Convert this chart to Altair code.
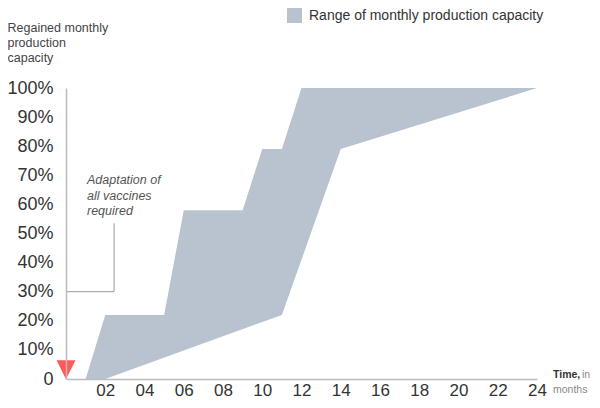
import altair as alt
import pandas as pd

# ---- data ----
upper_months = [1, 2, 5, 6, 9, 10, 11, 12, 24]
upper_values = [0, 22, 22, 58, 58, 79, 79, 100, 100]
lower_months = [2, 11, 14, 24]
lower_values = [0, 22, 79, 100]
series_name = "Range of monthly production capacity"
y_ticks = [0, 10, 20, 30, 40, 50, 60, 70, 80, 90, 100]
x_ticks = [2, 4, 6, 8, 10, 12, 14, 16, 18, 20, 22, 24]
y_title = ["Regained monthly", "production", "capacity"]
annotation_lines = ["Adaptation of", "all vaccines", "required"]
marker_month = [0]
marker_value = [3.2]
connector_month = [2.45]
connector_low = [30]
connector_high = [53.5]

FONT = "Liberation Sans"
AREA = "#b9c3d0"
TXT = "#333333"
AXIS = "#bbbbbb"

upper = pd.DataFrame({"month": upper_months, "capacity": upper_values,
                      "series": [series_name] * len(upper_months)})
lower = pd.DataFrame({"month": lower_months, "capacity": lower_values})

x_scale = alt.Scale(domain=[0, 24], nice=False, zero=False)
y_scale = alt.Scale(domain=[0, 100], nice=False)

x_axis = alt.Axis(values=x_ticks,
                  labelExpr="datum.value < 10 ? '0' + datum.value : '' + datum.value",
                  ticks=False, grid=False, domainColor=AXIS, domainWidth=1.5,
                  labelFontSize=17, labelColor=TXT, labelFont=FONT, labelPadding=3,
                  labelFlush=False, labelOverlap=False, title=None, zindex=1)
y_axis = alt.Axis(values=y_ticks,
                  labelExpr="datum.value == 0 ? '0' : datum.value + '%'",
                  ticks=False, grid=False, domainColor=AXIS, domainWidth=1.5,
                  labelFontSize=18, labelColor=TXT, labelFont=FONT, labelPadding=13,
                  labelOverlap=False, labelFlush=False, labelSeparation=0,
                  title=y_title, titleAngle=0, titleAlign="left", titleBaseline="top",
                  titleX=-59, titleY=-67, titleFontSize=12.5, titleFontWeight="normal",
                  titleColor="#444444", titleLineHeight=15, titleFont=FONT, zindex=1)

X = lambda f: alt.X(f, scale=x_scale, axis=x_axis)
Y = lambda f: alt.Y(f, scale=y_scale, axis=y_axis)

gray = alt.Chart(upper).mark_area(interpolate="linear", opacity=1).encode(
    x=X("month:Q"),
    y=Y("capacity:Q"),
    color=alt.Color("series:N", scale=alt.Scale(range=[AREA]),
                    legend=alt.Legend(orient="none", legendX=221, legendY=-80,
                                      title=None, symbolType="square", symbolSize=225,
                                      symbolStrokeWidth=0, symbolOpacity=1,
                                      labelFontSize=14, labelColor=TXT, labelFont=FONT,
                                      labelOffset=7, labelLimit=400, padding=0)),
)

mask = alt.Chart(lower).mark_area(interpolate="linear", color="white", opacity=1).encode(
    x=X("month:Q"),
    y=Y("capacity:Q"),
)

conn_df = pd.DataFrame({"month": connector_month, "lo": connector_low,
                        "hi": connector_high, "start": [0]})
conn_v = alt.Chart(conn_df).mark_rule(color="#999999", strokeWidth=1).encode(
    x=X("month:Q"), y=Y("lo:Q"), y2="hi:Q")
conn_h = alt.Chart(conn_df).mark_rule(color="#999999", strokeWidth=1).encode(
    x=X("start:Q"), x2="month:Q", y=Y("lo:Q"))

marker = alt.Chart(pd.DataFrame({"month": marker_month, "capacity": marker_value})).mark_point(
    shape="M-1,-1L1,-1L0,1Z", filled=True, color="#ff5a5a", size=361, opacity=1
).encode(x=X("month:Q"), y=Y("capacity:Q"))

annot = alt.Chart(pd.DataFrame({"a": [0]})).mark_text(
    text=annotation_lines, align="left", baseline="top", fontStyle="italic",
    fontSize=12.5, color="#555555", lineHeight=15.5, font=FONT
).encode(x=alt.value(21), y=alt.value(86))

time_bold = alt.Chart(pd.DataFrame({"a": [0]})).mark_text(
    text="Time,", align="left", baseline="middle", fontWeight="bold",
    fontSize=10.5, color=TXT, font=FONT
).encode(x=alt.value(487), y=alt.value(287))
time_in = alt.Chart(pd.DataFrame({"a": [0]})).mark_text(
    text="in", align="left", baseline="middle", fontSize=10.5, color="#888888", font=FONT
).encode(x=alt.value(516), y=alt.value(287))
time_months = alt.Chart(pd.DataFrame({"a": [0]})).mark_text(
    text="months", align="left", baseline="middle", fontSize=10.5, color="#888888", font=FONT
).encode(x=alt.value(487), y=alt.value(302))

chart = alt.layer(gray, mask, conn_v, conn_h, annot, time_bold, time_in, time_months, marker).properties(
    width=471, height=291,
    padding={"left": 58, "top": 80, "right": 55, "bottom": 21},
    autosize="none",
    background="white",
).configure_view(stroke=None).configure_axis(labelOverlap=False)

chart.save("out.html", embed_options={"renderer": "svg", "actions": False})
